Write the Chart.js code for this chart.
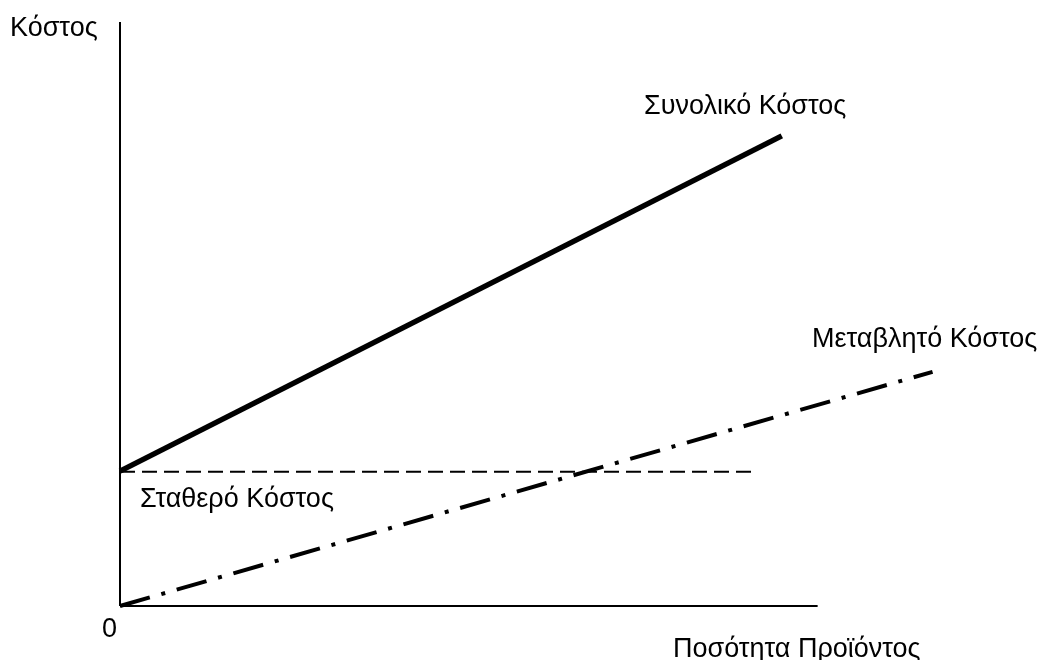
<!DOCTYPE html>
<html>
<head>
<meta charset="utf-8">
<script src="https://cdn.jsdelivr.net/npm/chart.js@4"></script>
<style>
  html, body { margin: 0; padding: 0; background: #fff; }
  #wrap { width: 1038px; height: 660px; position: relative; }
</style>
</head>
<body>
<div id="wrap"><canvas id="c"></canvas></div>
<script>
// Quantity (x) and cost (y) values (arbitrary units, 0..100)
const totalCostX = [0, 81.2];
const totalCostY = [23.1, 80.5];
const fixedCostX = [0, 77.5];
const fixedCostY = [23.0, 23.0];
const variableCostX = [0, 99.7];
const variableCostY = [0, 40.1];
const xAxisX = [0, 85.6];
const xAxisY = [0, 0];
const yAxisX = [0, 0];
const yAxisY = [0, 100];

const seriesLabels = ['Συνολικό Κόστος', 'Σταθερό Κόστος', 'Μεταβλητό Κόστος'];
const axisTitleY = 'Κόστος';
const axisTitleX = 'Ποσότητα Προϊόντος';
const originLabel = '0';

const pts = (xs, ys) => xs.map((x, i) => ({ x: x, y: ys[i] }));

const FONT = '27px "Liberation Sans", Arial, sans-serif';

const textPlugin = {
  id: 'texts',
  afterDraw(chart) {
    const ctx = chart.ctx;
    ctx.save();
    ctx.fillStyle = '#000';
    ctx.font = FONT;
    ctx.textBaseline = 'alphabetic';
    ctx.textAlign = 'left';
    ctx.fillText(axisTitleY, 10, 36);
    ctx.fillText(seriesLabels[0], 644, 114);
    ctx.fillText(seriesLabels[2], 812, 347);
    ctx.fillText(seriesLabels[1], 140, 507);
    ctx.fillText(originLabel, 102, 637);
    ctx.fillText(axisTitleX, 673, 657);
    ctx.restore();
  }
};

new Chart(document.getElementById('c'), {
  type: 'line',
  data: {
    datasets: [
      { label: 'yAxis', data: pts(yAxisX, yAxisY), borderColor: '#000', borderWidth: 2 },
      { label: 'xAxis', data: pts(xAxisX, xAxisY), borderColor: '#000', borderWidth: 2 },
      { label: seriesLabels[1], data: pts(fixedCostX, fixedCostY), borderColor: '#000', borderWidth: 2, borderDash: [15, 7] },
      { label: seriesLabels[2], data: pts(variableCostX, variableCostY), borderColor: '#000', borderWidth: 4, borderDash: [31, 12, 4, 12] },
      { label: seriesLabels[0], data: pts(totalCostX, totalCostY), borderColor: '#000', borderWidth: 5.5 }
    ]
  },
  options: {
    responsive: true,
    maintainAspectRatio: false,
    animation: false,
    events: [],
    layout: { padding: { left: 120, right: 103, top: 22, bottom: 54 } },
    elements: { point: { radius: 0 }, line: { tension: 0, fill: false } },
    datasets: { line: { clip: false } },
    plugins: { legend: { display: false }, tooltip: { enabled: false } },
    scales: {
      x: { type: 'linear', min: 0, max: 100, display: false },
      y: { type: 'linear', min: 0, max: 100, display: false }
    }
  },
  plugins: [textPlugin]
});
</script>
</body>
</html>
